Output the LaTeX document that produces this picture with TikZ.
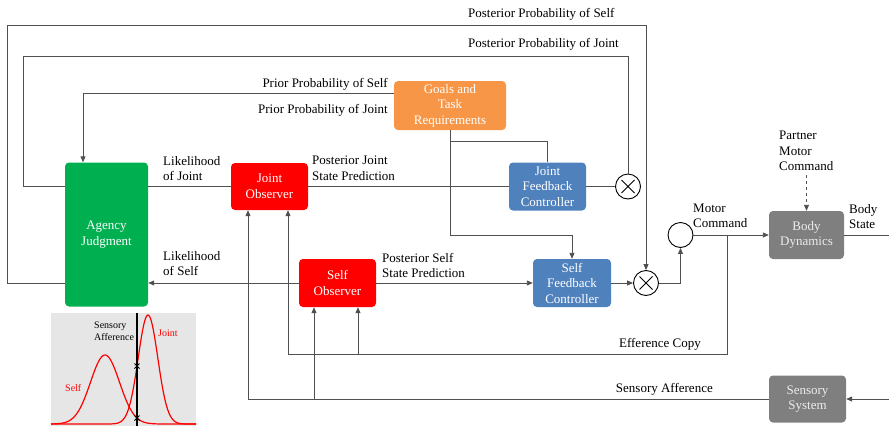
\documentclass[tikz,border=0pt]{standalone}
\usepackage{fontspec}
\setmainfont{Liberation Serif}
\usetikzlibrary{arrows.meta}
\definecolor{cOrange}{HTML}{F79646}
\definecolor{cBlue}{HTML}{4F81BD}
\definecolor{cRed}{HTML}{FF0000}
\definecolor{cGreen}{HTML}{00B050}
\definecolor{cGray}{HTML}{7F7F7F}
\definecolor{cLine}{HTML}{505050}
\definecolor{cInset}{HTML}{E6E6E6}
\definecolor{cGrayText}{HTML}{EDEDED}
\begin{document}
\begin{tikzpicture}[x=1pt,y=-1pt,
  box/.style={rectangle, rounded corners=4pt, inner sep=0pt, text=white, align=center, font=\fontsize{13}{15.5}\selectfont},
  goalbox/.style={box, fill=cOrange},
  ctrlbox/.style={box, fill=cBlue},
  obsbox/.style={box, fill=cRed},
  agbox/.style={box, fill=cGreen},
  sysbox/.style={box, fill=cGray, text=cGrayText},
  conn/.style={draw=cLine, line width=0.9pt},
  arr/.style={conn, -{Triangle[length=6pt,width=5pt]}},
  lbl/.style={inner sep=0pt, align=left, font=\fontsize{13}{15.5}\selectfont},
  smalllbl/.style={inner sep=0pt, align=left, font=\fontsize{10}{12}\selectfont},
  opcircle/.style={circle, draw=black, line width=0.9pt, minimum size=25pt, inner sep=0pt},
  mult/.style={opcircle, path picture={\draw[line width=0.9pt] (path picture bounding box.center) +(-6.5,-6.5) -- +(6.5,6.5) +(-6.5,6.5) -- +(6.5,-6.5);}},
]
\useasboundingbox (0,0) rectangle (889,426);

% ---- nodes ----
\node[goalbox, minimum width=112pt, minimum height=49pt] (goals) at (450,105.5) {Goals and\\Task\\Requirements};
\node[ctrlbox, minimum width=77pt, minimum height=48pt] (jfb) at (547.5,186.5) {Joint\\Feedback\\Controller};
\node[ctrlbox, minimum width=78pt, minimum height=48pt] (sfb) at (572,283) {Self\\Feedback\\Controller};
\node[obsbox, minimum width=77pt, minimum height=47pt] (jobs) at (269.5,186.5) {Joint\\Observer};
\node[obsbox, minimum width=77pt, minimum height=48pt] (sobs) at (337.5,283) {Self\\Observer};
\node[agbox, minimum width=83pt, minimum height=144pt] (agency) at (106.5,234.5) {Agency\\Judgment};
\node[sysbox, minimum width=75pt, minimum height=48pt] (body) at (806.5,235) {Body\\Dynamics};
\node[sysbox, minimum width=77pt, minimum height=47pt] (sens) at (807.5,399) {Sensory\\System};
\node[mult] (mul1) at (628,186.5) {};
\node[mult] (mul2) at (646,283) {};
\node[opcircle] (sum) at (680.5,235) {};

% ---- labels ----
\node[lbl, anchor=east] (lpriors) at (388,84) {Prior Probability of Self};
\node[lbl, anchor=east] (lpriorj) at (388,110) {Prior Probability of Joint};
\node[lbl, anchor=west] (lposts) at (468,14) {Posterior Probability of Self};
\node[lbl, anchor=west] (lpostj) at (468,44) {Posterior Probability of Joint};
\node[lbl, anchor=west] (llikj) at (163,168.5) {Likelihood\\of Joint};
\node[lbl, anchor=west] (lliks) at (163,263.5) {Likelihood\\of Self};
\node[lbl, anchor=west] (lpjsp) at (312,168.5) {Posterior Joint\\State Prediction};
\node[lbl, anchor=west] (lpssp) at (382,265.5) {Posterior Self\\State Prediction};
\node[lbl, anchor=west] (lmotor) at (693,216) {Motor\\Command};
\node[lbl, anchor=west] (lbodys) at (849,216.5) {Body\\State};
\node[lbl, anchor=west] (lpartner) at (779,151) {Partner\\Motor\\Command};
\node[lbl, anchor=east] (leff) at (701,344) {Efference Copy};
\node[lbl, anchor=east] (lsensaff) at (713,389) {Sensory Afference};

% ---- connectors ----
% prior
\draw[arr] (goals.west |- 0,93) -| (agency.north -| 83,0);
% posterior joint loop
\draw[conn] (agency.west |- jobs.west) -| (23,56) -| (mul1.north);
% posterior self loop
\draw[arr] (agency.west |- sobs.west) -| (7,25) -| (mul2.north);
% likelihoods
\draw[conn] (jobs.west) -- (agency.east |- jobs.west);
\draw[arr] (sobs.west) -- (agency.east |- sobs.west);
% state predictions
\draw[conn] (jobs.east) -- (jfb.west);
\draw[arr] (sobs.east) -- (sfb.west);
% goals
\draw[arr] (goals.south) |- (sfb.north |- 0,235) -- (sfb.north);
\draw[conn] (goals.south |- 0,141) -| (jfb.north);
% controllers to multipliers
\draw[conn] (jfb.east) -- (mul1.west);
\draw[arr] (sfb.east) -- (mul2.west);
\draw[arr] (mul2.east) -| (sum.south);
\draw[arr] (sum.east) -- (body.west);
% body state
\draw[conn] (body.east) -- (889,235);
% partner
\draw[conn, dashed, -{Triangle[length=6pt,width=5pt]}] (lpartner.south -| body.north) ++(0,4) -- (body.north);
% efference copy
\draw[arr] (sum.east -| 727,0) |- (288,354) -- (jobs.south -| 288,0);
\draw[arr] (358,354) -- (sobs.south -| 358,0);
% sensory afference
\draw[arr] (sens.west) -| (jobs.south -| 248,0);
\draw[arr] (314,399) -- (sobs.south -| 314,0);
\draw[arr] (889,399) -- (sens.east);

% ---- inset graph ----
\fill[cInset] (51,313) rectangle (196,426);
\draw[red, line width=1.2pt] plot[domain=51:196, samples=160, smooth] (\x,{424-69*exp(-(\x-105)*(\x-105)/420.5)});
\draw[red, line width=1.2pt] plot[domain=51:196, samples=160, smooth] (\x,{424-109*exp(-(\x-148)*(\x-148)/192)});
\draw[black, line width=1.2pt] (137,313) -- (137,426);
\draw[black, line width=1pt] (134.5,363.5) -- (139.5,368.5) (134.5,368.5) -- (139.5,363.5);
\draw[black, line width=1pt] (134.5,415.5) -- (139.5,420.5) (134.5,420.5) -- (139.5,415.5);
\node[smalllbl, anchor=west] (isa) at (94,331) {Sensory\\Afference};
\node[smalllbl, anchor=west, text=red] (ijoint) at (158,333) {Joint};
\node[smalllbl, anchor=west, text=red] (iself) at (65,388) {Self};
\end{tikzpicture}
\end{document}
